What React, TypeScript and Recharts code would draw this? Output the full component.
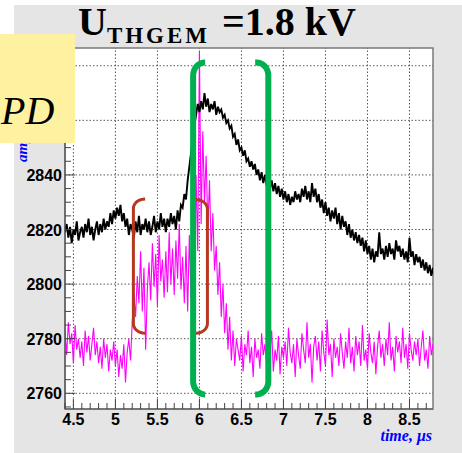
import React from 'react';
import { LineChart, Line, XAxis, YAxis, CartesianGrid, ReferenceLine, ReferenceArea } from 'recharts';

// sampling grid of the scope traces (µs)
const T0 = 4.4;
const DT = 0.02;

// black trace (THGEM signal), one value per sample
const blackAmp = [
  2819, 2822, 2817, 2821, 2815, 2820, 2818, 2823, 2816, 2819,
  2821, 2817, 2822, 2819, 2824, 2818, 2821, 2816, 2820, 2823,
  2818, 2822, 2819, 2824, 2820, 2823, 2821, 2826, 2822, 2827,
  2824, 2828, 2825, 2829, 2823, 2826, 2821, 2824, 2818, 2822,
  2820, 2817, 2823, 2819, 2825, 2818, 2822, 2820, 2824, 2819,
  2823, 2818, 2821, 2825, 2819, 2823, 2820, 2826, 2821, 2824,
  2819, 2824, 2821, 2826, 2822, 2825, 2820, 2827, 2823, 2829,
  2828, 2833, 2831, 2838, 2843, 2848, 2853, 2858, 2862, 2866,
  2863, 2867, 2864, 2870, 2865, 2868, 2863, 2866, 2864, 2867,
  2862, 2865, 2863, 2864, 2861, 2862, 2859, 2860, 2857, 2858,
  2854, 2855, 2851, 2853, 2849, 2850, 2847, 2849, 2845, 2846,
  2843, 2845, 2842, 2844, 2840, 2842, 2838, 2841, 2837, 2840,
  2836, 2839, 2835, 2838, 2834, 2837, 2833, 2836, 2832, 2835,
  2831, 2834, 2830, 2833, 2829, 2832, 2830, 2834, 2831, 2833,
  2830, 2835, 2832, 2836, 2831, 2834, 2830, 2837, 2832, 2835,
  2830, 2833, 2828, 2831, 2826, 2830, 2825, 2828, 2823, 2827,
  2824, 2828, 2822, 2826, 2820, 2825, 2821, 2823, 2818, 2822,
  2817, 2820, 2816, 2819, 2815, 2818, 2814, 2817, 2812, 2816,
  2811, 2814, 2809, 2813, 2808, 2812, 2810, 2819, 2811, 2813,
  2809, 2814, 2810, 2815, 2811, 2813, 2809, 2816, 2812, 2814,
  2810, 2813, 2809, 2812, 2808, 2817, 2810, 2812, 2807, 2811,
  2808, 2810, 2806, 2809, 2805, 2808, 2804, 2807, 2803, 2806,
];

// magenta trace (PD signal), one value per sample
const magentaAmp = [
  2783, 2774, 2786, 2778, 2782, 2771, 2785, 2776, 2780, 2773,
  2779, 2770, 2783, 2775, 2781, 2772, 2778, 2784, 2774, 2779,
  2771, 2777, 2769, 2780, 2773, 2778, 2768, 2776, 2772, 2779,
  2770, 2776, 2766, 2774, 2769, 2778, 2764, 2775, 2780, 2772,
  2786, 2796, 2788, 2803, 2793, 2812, 2790, 2806, 2776, 2798,
  2808, 2794, 2815, 2799, 2811, 2792, 2818, 2801, 2809, 2795,
  2812, 2797, 2819, 2800, 2813, 2796, 2816, 2802, 2822, 2798,
  2810, 2793, 2814, 2790, 2818, 2795, 2826, 2803, 2840, 2812,
  2885, 2822, 2856, 2830, 2847, 2820, 2838, 2812, 2826, 2805,
  2814, 2796, 2808, 2788, 2800, 2782, 2793, 2776, 2788, 2772,
  2783, 2770, 2780, 2776, 2772, 2781, 2768, 2778, 2774, 2783,
  2771, 2777, 2766, 2780, 2773, 2776, 2769, 2782, 2774, 2778,
  2770, 2779, 2775, 2783, 2768, 2776, 2772, 2781, 2767, 2777,
  2773, 2779, 2770, 2784, 2775, 2771, 2778, 2766, 2780, 2774,
  2769, 2782, 2776, 2771, 2786, 2773, 2778, 2764, 2777, 2781,
  2772, 2779, 2768, 2783, 2775, 2770, 2787, 2774, 2778, 2766,
  2780, 2773, 2777, 2770, 2782, 2775, 2769, 2779, 2773, 2784,
  2771, 2777, 2768, 2781, 2774, 2779, 2770, 2785, 2772, 2776,
  2769, 2782, 2775, 2771, 2779, 2767, 2777, 2783, 2773, 2778,
  2770, 2780, 2774, 2786, 2772, 2777, 2768, 2781, 2775, 2779,
  2771, 2784, 2773, 2778, 2769, 2782, 2776, 2772, 2779, 2774,
  2780, 2770, 2777, 2783, 2772, 2776, 2769, 2781, 2774, 2778,
];

// axis tick labels (2860 and 2880 are hidden behind the PD box in the reference)
const xMajorTicks = [4.5, 5, 5.5, 6, 6.5, 7, 7.5, 8, 8.5];
const yMajorTicks = [2760, 2780, 2800, 2820, 2840, 2860, 2880];
const yLabelTicks = [2760, 2780, 2800, 2820, 2840];
const xDomain: [number, number] = [4.4, 8.78];
const yDomain: [number, number] = [2754.25, 2886.5];

// bracket annotations: [vertical x, hook-end x, top y, bottom y]
const greenBrackets = [
  [5.925, 6.068, 2881.2, 2759.6],
  [6.82, 6.663, 2881.2, 2759.6],
];
const redBrackets = [
  [5.214, 5.354, 2831.2, 2782.0],
  [6.095, 5.96, 2831.0, 2782.0],
];

const data = blackAmp.map((b, i) => ({
  t: +(T0 + i * DT).toFixed(2),
  black: b,
  magenta: magentaAmp[i],
}));

const xTicks: number[] = [];
for (let v = 44; v <= 87; v++) xTicks.push(v / 10);
const yTicks: number[] = [];
for (let v = 2755; v <= 2885; v += 5) yTicks.push(v);

function bracket(xv: number, xe: number, yTop: number, yBot: number, rx: number, ry: number) {
  const dir = Math.sign(xe - xv);
  const cx = xv + dir * rx;
  const pts: { t: number; y: number }[] = [];
  pts.push({ t: xe, y: yTop });
  const n = 8;
  const cyTop = yTop - ry;
  for (let k = 0; k <= n; k++) {
    const a = (k / n) * (Math.PI / 2);
    pts.push({ t: cx - dir * rx * Math.sin(a), y: cyTop + ry * Math.cos(a) });
  }
  const cyBot = yBot + ry;
  for (let k = 0; k <= n; k++) {
    const a = (k / n) * (Math.PI / 2);
    pts.push({ t: cx - dir * rx * Math.cos(a), y: cyBot - ry * Math.sin(a) });
  }
  pts.push({ t: xe, y: yBot });
  return pts;
}

const tickFont = { fontFamily: '"Liberation Sans", Arial, sans-serif', fontWeight: 700, fontSize: 16 };

const YTick = (props: any) => {
  const { x, y, payload } = props;
  const v = payload.value as number;
  const major = v % 20 === 0;
  return (
    <g>
      <line x1={x} x2={x + (major ? 10 : 6)} y1={y} y2={y} stroke="#444" strokeWidth={1} />
      {yLabelTicks.includes(v) && (
        <text x={x - 3} y={y + 6} textAnchor="end" fill="#000" style={tickFont}>
          {v}
        </text>
      )}
    </g>
  );
};

const XTick = (props: any) => {
  const { x, y, payload } = props;
  const v = payload.value as number;
  const major = Math.abs(v * 2 - Math.round(v * 2)) < 1e-6;
  return (
    <g>
      <line x1={x} x2={x} y1={y} y2={y - (major ? 10 : 6)} stroke="#444" strokeWidth={1} />
      {major && (
        <text x={x} y={y + 16} textAnchor="middle" fill="#000" style={tickFont}>
          {String(v)}
        </text>
      )}
    </g>
  );
};

export default function App() {
  return (
    <div style={{ position: 'absolute', left: 0, top: 0, width: 462, height: 453, background: '#fff', overflow: 'hidden' }}>
      <div style={{ position: 'absolute', left: 14, top: 5, width: 448, height: 448, background: '#e5e5e5' }} />
      <div style={{ position: 'absolute', left: 0, top: 0 }}>
        <LineChart width={462} height={453} data={data} margin={{ top: 48, right: 29, left: 14, bottom: 14 }}>
          <CartesianGrid horizontal={false} vertical={false} fill="#ffffff" />
          <XAxis
            dataKey="t"
            type="number"
            domain={xDomain}
            allowDataOverflow
            ticks={xTicks}
            interval={0}
            height={30}
            tickSize={0}
            tickMargin={0}
            tickLine={false}
            axisLine={{ stroke: '#555', strokeWidth: 1.2 }}
            tick={<XTick />}
          />
          <YAxis
            type="number"
            domain={yDomain}
            allowDataOverflow
            ticks={yTicks}
            interval={0}
            width={51}
            tickSize={0}
            tickMargin={0}
            tickLine={false}
            axisLine={{ stroke: '#555', strokeWidth: 1.2 }}
            tick={<YTick />}
          />
          {xMajorTicks.map((v) => (
            <ReferenceLine key={'gx' + v} x={v} stroke="#555" strokeDasharray="1.5 2" strokeWidth={1} />
          ))}
          {yMajorTicks.map((v) => (
            <ReferenceLine key={'gy' + v} y={v} stroke="#555" strokeDasharray="1.5 2" strokeWidth={1} />
          ))}
          <ReferenceArea x1={xDomain[0]} x2={xDomain[1]} y1={yDomain[0]} y2={yDomain[1]} fill="none" fillOpacity={0} stroke="#7a7a7a" strokeWidth={1.5} />
          <Line dataKey="magenta" stroke="#ff00ff" strokeWidth={1.1} dot={false} activeDot={false} isAnimationActive={false} type="linear" />
          <Line dataKey="black" stroke="#000" strokeWidth={1.9} dot={false} activeDot={false} isAnimationActive={false} type="linear" />
          {redBrackets.map((b, i) => (
            <Line
              key={'rb' + i}
              data={bracket(b[0], b[1], b[2], b[3], 0.14, 3.5)}
              dataKey="y"
              stroke="#b5381f"
              strokeWidth={3}
              dot={false}
              activeDot={false}
              isAnimationActive={false}
              type="linear"
            />
          ))}
          {greenBrackets.map((b, i) => (
            <Line
              key={'gb' + i}
              data={bracket(b[0], b[1], b[2], b[3], 0.14, 4.8)}
              dataKey="y"
              stroke="#00b050"
              strokeWidth={6}
              dot={false}
              activeDot={false}
              isAnimationActive={false}
              type="linear"
            />
          ))}
        </LineChart>
      </div>
      <svg width={462} height={453} style={{ position: 'absolute', left: 0, top: 0, pointerEvents: 'none' }}>
        <text
          x={27}
          y={162}
          transform="rotate(-90 27 162)"
          fill="#0000ff"
          style={{ fontFamily: '"Liberation Serif", serif', fontStyle: 'italic', fontWeight: 700, fontSize: 15 }}
        >
          amplitude
        </text>
        <rect x={0} y={34} width={75} height={109} fill="#fef1a0" />
        <text x={1} y={124} fill="#000" style={{ fontFamily: '"Liberation Serif", serif', fontStyle: 'italic', fontSize: 40 }}>
          PD
        </text>
        <text x={78} y={35} fill="#000" style={{ fontFamily: '"Liberation Serif", serif', fontWeight: 700, fontSize: 40 }}>
          U
          <tspan dy={8} style={{ fontSize: 23, letterSpacing: 3 }}>THGEM</tspan>
          <tspan x={222} dy={-8} style={{ fontSize: 40 }}>=1.8 kV</tspan>
        </text>
        <text
          x={432}
          y={441}
          textAnchor="end"
          fill="#0000ff"
          style={{ fontFamily: '"Liberation Serif", serif', fontStyle: 'italic', fontWeight: 700, fontSize: 16 }}
        >
          time, μs
        </text>
      </svg>
    </div>
  );
}
